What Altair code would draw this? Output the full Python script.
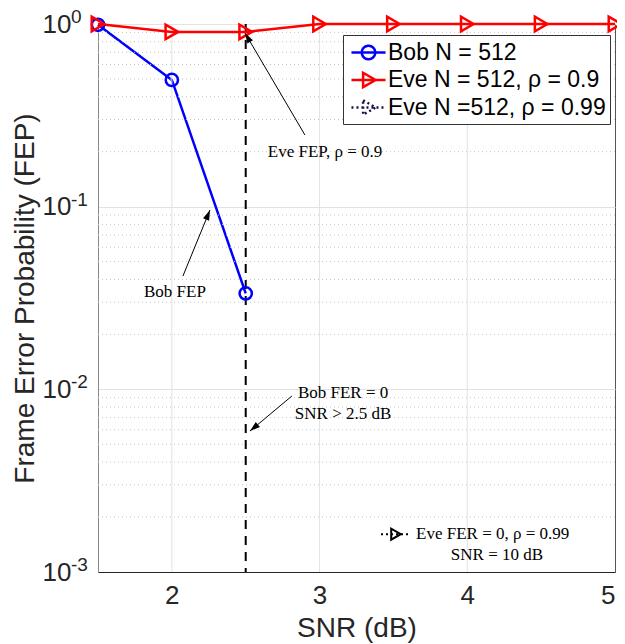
import math
import altair as alt
import pandas as pd

W, H = 517, 548
X_DOMAIN = [1.5, 5.0]
Y_DOMAIN = [0.001, 1.0]

# --- data ---
bob_snr = [1.5, 2.0, 2.5]
bob_fep = [0.99, 0.494, 0.0335]
eve_snr = [1.5, 2.0, 2.5, 3.0, 3.5, 4.0, 4.5, 5.0]
eve_fep = [1.0, 0.905, 0.905, 1.0, 1.0, 1.0, 1.0, 1.0]

series_names = ["Bob N = 512", "Eve N = 512, ρ = 0.9", "Eve N =512, ρ = 0.99"]
series_colors = ["#0000ff", "#ff0000", "#1c1046"]
legend_paths = [
    "M-1.42,0H1.42M-0.56,0A0.56,0.56 0 1,1 0.56,0A0.56,0.56 0 1,1 -0.56,0Z",
    "M-1.42,0H1.42M-0.45,-0.6L0.6,0L-0.45,0.6Z",
    "M-1.42,0H1.42M-0.45,-0.6L0.6,0L-0.45,0.6Z",
]
legend_dashes = [[1, 0], [1, 0], [2, 3]]

x_ticks = [2, 3, 4, 5]
x_grid = [2, 3, 4]
y_ticks = [0.001, 0.01, 0.1, 1.0]
y_exponents = ["-3", "-2", "-1", "0"]
y_minor = [m * 10.0 ** e for e in (-3, -2, -1) for m in range(2, 10)]

vline_snr = [2.5]

# annotation texts (data coordinates)
ann_text = ["Eve FEP, ρ = 0.9", "Bob FEP", "Bob FER = 0", "SNR > 2.5 dB",
            "Eve FER = 0, ρ = 0.99", "SNR = 10 dB"]
ann_x = [3.037, 2.021, 3.159, 3.159, 3.653, 4.201]
ann_y = [0.199, 0.0341, 0.00955, 0.00733, 0.00161, 0.00124]
ann_align = ["center", "center", "center", "center", "left", "center"]

# arrows: tail (x1,y1) -> tip (x2,y2)
arr_x1 = [2.901, 2.075, 2.813]
arr_y1 = [0.2467, 0.0417, 0.0092]
arr_x2 = [2.495, 2.258, 2.529]
arr_y2 = [0.893, 0.0959, 0.00591]

# small legend-like marker in the bottom-right note
note_line_x = [3.416]
note_line_x2 = [3.617]
note_y = [0.00161]
note_marker_x = [3.517]


def px(x):
    return (x - X_DOMAIN[0]) / (X_DOMAIN[1] - X_DOMAIN[0]) * W


def py(y):
    return (math.log10(Y_DOMAIN[1]) - math.log10(y)) / (
        math.log10(Y_DOMAIN[1]) - math.log10(Y_DOMAIN[0])) * H


angles = []
for a, b, c, d in zip(arr_x1, arr_y1, arr_x2, arr_y2):
    dx = px(c) - px(a)
    dy = py(d) - py(b)
    angles.append(math.degrees(math.atan2(dx, -dy)) % 360)

xs = alt.Scale(domain=X_DOMAIN, nice=False, zero=False)
ys = alt.Scale(type="log", domain=Y_DOMAIN, nice=False)

AX_FONT = "Liberation Sans"
SERIF = "Liberation Serif"
TXT = "#262626"

x_axis = alt.Axis(values=x_ticks, title="SNR (dB)", grid=False, ticks=False,
                  labelFontSize=26, titleFontSize=28, labelPadding=10,
                  titlePadding=6, labelFont=AX_FONT, titleFont=AX_FONT,
                  labelColor=TXT, titleColor=TXT, titleFontWeight="normal",
                  domainColor="#262626")
y_axis = alt.Axis(values=y_ticks, labelExpr="'10'", title="Frame Error Probability (FEP)",
                  grid=True, gridColor="#e2e2e2", ticks=False,
                  labelFontSize=26, titleFontSize=28, labelPadding=27,
                  titlePadding=3, labelFont=AX_FONT, titleFont=AX_FONT,
                  labelColor=TXT, titleColor=TXT, titleFontWeight="normal",
                  domainColor="#888888")


def X(field):
    return alt.X(field, scale=xs, axis=x_axis)


def Y(field):
    return alt.Y(field, scale=ys, axis=y_axis)


minor_df = pd.DataFrame({"v": y_minor})
minor = alt.Chart(minor_df).mark_rule(color="#c4c4c4", strokeWidth=1, strokeDash=[1, 3]).encode(
    y=Y("v:Q"))

xgrid_df = pd.DataFrame({"v": x_grid})
xgrid = alt.Chart(xgrid_df).mark_rule(color="#e2e2e2", strokeWidth=1).encode(x=X("v:Q"))

bob_df = pd.DataFrame({"snr": bob_snr, "fep": bob_fep})
eve_df = pd.DataFrame({"snr": eve_snr, "fep": eve_fep})

bob_line = alt.Chart(bob_df).mark_line(color=series_colors[0], strokeWidth=2.5).encode(
    x=X("snr:Q"), y=Y("fep:Q"))
bob_pts = alt.Chart(bob_df).mark_point(shape="circle", filled=False, size=150,
                                       color=series_colors[0], strokeWidth=2.5, opacity=1).encode(
    x=X("snr:Q"), y=Y("fep:Q"))

eve_line = alt.Chart(eve_df).mark_line(color=series_colors[1], strokeWidth=2.5).encode(
    x=X("snr:Q"), y=Y("fep:Q"))
eve_pts = alt.Chart(eve_df).mark_point(shape="triangle-right", filled=False, size=210,
                                       color=series_colors[1], strokeWidth=2.5, opacity=1).encode(
    x=X("snr:Q"), y=Y("fep:Q"))

vline_df = pd.DataFrame({"snr": vline_snr})
vline = alt.Chart(vline_df).mark_rule(color="black", strokeWidth=2, strokeDash=[9, 7]).encode(
    x=X("snr:Q"))

arr_df = pd.DataFrame({"x1": arr_x1, "y1": arr_y1, "x2": arr_x2, "y2": arr_y2, "ang": angles})
arrows = alt.Chart(arr_df).mark_rule(color="black", strokeWidth=1).encode(
    x=X("x1:Q"), y=Y("y1:Q"), x2="x2:Q", y2="y2:Q")
heads = alt.Chart(arr_df).mark_point(shape="M0,0L-0.32,1L0.32,1Z", filled=True, size=420,
                                     color="black", opacity=1, strokeWidth=0).encode(
    x=X("x2:Q"), y=Y("y2:Q"), angle=alt.Angle("ang:Q", scale=None))

ann_df = pd.DataFrame({"t": ann_text, "x": ann_x, "y": ann_y, "a": ann_align})
texts = []
for al in ["center", "left"]:
    texts.append(alt.Chart(ann_df).transform_filter(alt.datum.a == al).mark_text(
        font=SERIF, fontSize=17, color="black", align=al, baseline="middle").encode(
        x=X("x:Q"), y=Y("y:Q"), text="t:N"))

note_df = pd.DataFrame({"x": note_line_x, "x2": note_line_x2, "y": note_y, "m": note_marker_x})
note_line = alt.Chart(note_df).mark_rule(color="black", strokeWidth=2, strokeDash=[2, 3]).encode(
    x=X("x:Q"), x2="x2:Q", y=Y("y:Q"))
note_pt = alt.Chart(note_df).mark_point(shape="triangle-right", filled=False, size=120,
                                        color="black", strokeWidth=2, opacity=1).encode(
    x=X("m:Q"), y=Y("y:Q"))

exp_df = pd.DataFrame({"y": y_ticks, "e": y_exponents, "x": [X_DOMAIN[0]] * len(y_ticks)})
exps = alt.Chart(exp_df).mark_text(font=AX_FONT, fontSize=19, color=TXT, align="left",
                                   baseline="middle", dx=-27, dy=-7).encode(
    x=X("x:Q"), y=Y("y:Q"), text="e:N")

leg_df = pd.DataFrame({"s": series_names, "x": [2.0] * 3, "y": [0.5] * 3})
legend = alt.Chart(leg_df).transform_filter("false").mark_point(filled=False, strokeWidth=2.5, opacity=1).encode(
    x=X("x:Q"), y=Y("y:Q"),
    color=alt.Color("s:N", scale=alt.Scale(domain=series_names, range=series_colors),
                    legend=alt.Legend(title=None, orient="none", legendX=245, legendY=11,
                                      direction="vertical", symbolSize=576, symbolOffset=8,
                                      symbolStrokeWidth=2.5, labelFontSize=23,
                                      labelFont=AX_FONT, labelColor="black", labelOffset=6,
                                      rowPadding=1.5, padding=4, fillColor="white",
                                      strokeColor="#333333", labelLimit=400)),
    shape=alt.Shape("s:N", scale=alt.Scale(domain=series_names, range=legend_paths)),
    strokeDash=alt.StrokeDash("s:N", scale=alt.Scale(domain=series_names, range=legend_dashes)))

chart = alt.layer(
    bob_line, minor, xgrid, vline, eve_line, bob_pts, eve_pts,
    arrows, heads, *texts, note_line, note_pt, exps, legend
).properties(
    width=W, height=H, autosize=alt.AutoSizeParams(type="none"),
    padding={"left": 90, "top": 16, "right": 2, "bottom": 72},
    background="white"
).configure_view(stroke="#555555", strokeWidth=1)

chart.save("out.html", embed_options={"renderer": "svg", "actions": False})
